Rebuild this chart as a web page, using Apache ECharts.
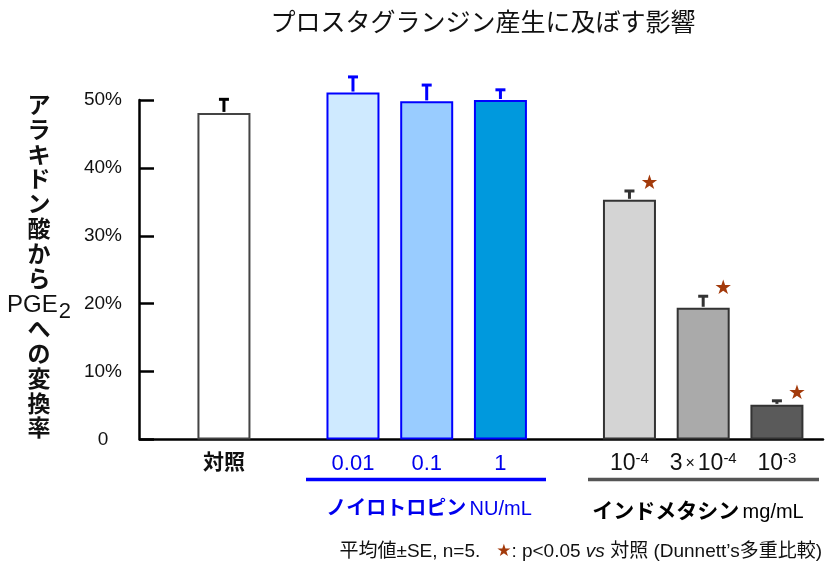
<!DOCTYPE html>
<html><head><meta charset="utf-8">
<script src="https://cdn.jsdelivr.net/npm/echarts@6/dist/echarts.min.js"></script>
<style>html,body{margin:0;padding:0;background:#fff}#c{width:826px;height:561px}</style>
</head><body><div id="c"></div><script>
// ---- data ----
const categories = ['対照', '0.01', '0.1', '1', '10^-4', '3×10^-4', '10^-3'];
const means = [48.1, 51.1, 49.8, 50.0, 35.3, 19.4, 5.1];
const errors = [2.0, 2.3, 2.4, 1.5, 1.3, 1.7, 0.6];
const significant = [false, false, false, false, true, true, true];
const yTickValues = [0, 10, 20, 30, 40, 50];
const titleText = 'プロスタグランジン産生に及ぼす影響';
const yNameLines = ['ア', 'ラ', 'キ', 'ド', 'ン', '酸', 'か', 'ら', 'PGE_2', 'へ', 'の', '変', '換', '率'];
const group1Name = 'ノイロトロピン';
const group1Unit = 'NU/mL';
const group2Name = 'インドメタシン';
const group2Unit = 'mg/mL';

// ---- layout / style ----
const FONT = "'Liberation Sans', 'Noto Sans CJK JP', sans-serif";
const slotIndex = [4, 11, 15, 19, 26, 30, 34];
const nSlots = 37;
const fills = ['#ffffff', '#cfeaff', '#99ccff', '#0099dd', '#d4d4d4', '#aaaaaa', '#5a5a5a'];
const borders = ['#444444', '#0000ff', '#0000ff', '#0000ff', '#333333', '#333333', '#333333'];
const errColors = ['#000000', '#0000ff', '#0000ff', '#0000ff', '#333333', '#333333', '#333333'];
const labelColors = ['#111111', '#0000ee', '#0000ee', '#0000ee', '#111111', '#111111', '#111111'];

const slotNames = [];
const slotLabels = [];
for (let i = 0; i < nSlots; i++) { slotNames.push('s' + i); slotLabels.push(''); }
function richLabel(text, idx) {
  const tag = idx === 0 ? 'k' : (labelColors[idx] === '#0000ee' ? 'b' : 'n');
  if (text.indexOf('^') < 0) return '{' + tag + '|' + text + '}';
  const [base, exp] = text.split('^');
  let out = '';
  if (base.indexOf('×') >= 0) {
    const [a, b] = base.split('×');
    out += '{n|' + a + '}{x|×}{n|' + b + '}';
  } else out += '{n|' + base + '}';
  out += '{s|' + exp + '}';
  return out;
}
const barData = slotNames.map(() => null);
const errData = [];
const starData = [];
categories.forEach((c, i) => {
  const s = slotIndex[i];
  slotLabels[s] = richLabel(c, i);
  barData[s] = { value: means[i], itemStyle: { color: fills[i], borderColor: borders[i], borderWidth: 2 } };
  errData.push([s, means[i], errors[i], i]);
  if (significant[i]) starData.push([s, means[i] + errors[i], i]);
});

const yNameText = yNameLines.map(l => {
  if (l.indexOf('_') >= 0) { const [a, b] = l.split('_'); return '{p|' + a + '}{sub|' + b + '}'; }
  return '{c|' + l + '}';
}).join('\n');

const chart = echarts.init(document.getElementById('c'));
chart.setOption({
  animation: false,
  backgroundColor: '#ffffff',
  grid: { left: 141, right: 3, top: 100, bottom: 121.5, outerBoundsMode: 'none', containLabel: false },
  xAxis: {
    type: 'category', data: slotNames, boundaryGap: true,
    axisLine: { lineStyle: { color: '#000', width: 2.5 } },
    axisTick: { show: false },
    axisLabel: {
      interval: 0, margin: 12, hideOverlap: false,
      formatter: (v, idx) => slotLabels[idx],
      rich: {
        k: { fontSize: 21, fontFamily: FONT, fontWeight: 'bold', color: '#111', lineHeight: 24 },
        b: { fontSize: 22, fontFamily: FONT, color: '#0000ee', lineHeight: 24 },
        n: { fontSize: 23, fontFamily: FONT, color: '#111', lineHeight: 24 },
        x: { fontSize: 16, fontFamily: FONT, color: '#111', lineHeight: 24, padding: [0, 3, 0, 3] },
        s: { fontSize: 15, fontFamily: FONT, color: '#111', lineHeight: 14, verticalAlign: 'top' }
      }
    },
    splitLine: { show: false }
  },
  yAxis: {
    type: 'value', min: 0, max: 50, interval: 10, offset: 2,
    axisLine: { show: true, lineStyle: { color: '#000', width: 2.5 } },
    axisTick: { show: true, inside: true, length: 15, lineStyle: { color: '#000', width: 2.5 } },
    axisLabel: {
      margin: 36, align: 'center', fontSize: 19, fontFamily: FONT, color: '#111',
      formatter: v => (yTickValues.indexOf(v) < 0 ? '' : (v === 0 ? '0' : v + '%'))
    },
    splitLine: { show: false }
  },
  series: [
    { type: 'bar', data: barData, barWidth: 53, z: 2, clip: false },
    {
      type: 'custom', data: errData, z: 3, clip: false, encode: { x: 0, y: 1 },
      renderItem: (params, api) => {
        const x = api.value(0), m = api.value(1), e = api.value(2), i = api.value(3);
        const p0 = api.coord([x, m]);
        const p1 = api.coord([x, m + e]);
        const c = errColors[i];
        return {
          type: 'group', children: [
            { type: 'line', shape: { x1: p0[0], y1: p0[1] - 1, x2: p1[0], y2: p1[1] }, style: { stroke: c, lineWidth: 3 } },
            { type: 'line', shape: { x1: p1[0] - 5, y1: p1[1], x2: p1[0] + 5, y2: p1[1] }, style: { stroke: c, lineWidth: 3 } }
          ]
        };
      }
    },
    {
      type: 'custom', data: starData, z: 4, clip: false, encode: { x: 0, y: 1 },
      renderItem: (params, api) => {
        const p = api.coord([api.value(0), api.value(1)]);
        return {
          type: 'text', x: p[0] + 20, y: p[1] - 7,
          style: { text: '★', fill: '#a33a0b', fontSize: 20, fontFamily: 'DejaVu Sans', align: 'center', verticalAlign: 'middle' }
        };
      }
    }
  ],
  graphic: [
    { type: 'text', x: 483, y: 24, style: { text: titleText, fontSize: 25, fontFamily: FONT, fill: '#111', align: 'center', verticalAlign: 'middle' } },
    { type: 'text', x: 39, y: 94, style: {
        text: yNameText, align: 'center', verticalAlign: 'top', fill: '#111',
        rich: {
          c: { fontSize: 23, fontFamily: FONT, fontWeight: 'bold', fill: '#111', lineHeight: 24.9 },
          p: { fontSize: 24, fontFamily: FONT, fill: '#111', lineHeight: 24.9 },
          sub: { fontSize: 22, fontFamily: FONT, fill: '#111', lineHeight: 24.9, padding: [12, 0, 0, 1] }
        }
      } },
    { type: 'line', shape: { x1: 306, y1: 479.5, x2: 546, y2: 479.5 }, style: { stroke: '#0000ff', lineWidth: 3.5 } },
    { type: 'line', shape: { x1: 588, y1: 479.5, x2: 819, y2: 479.5 }, style: { stroke: '#555555', lineWidth: 3.5 } },
    { type: 'text', x: 429, y: 509, style: {
        text: '{j|' + group1Name + '} {u|' + group1Unit + '}', align: 'center', verticalAlign: 'middle',
        rich: {
          j: { fontSize: 20, fontFamily: FONT, fontWeight: 'bold', fill: '#0000ee' },
          u: { fontSize: 20, fontFamily: FONT, fill: '#0000ee' }
        }
      } },
    { type: 'text', x: 698, y: 512, style: {
        text: '{j|' + group2Name + '} {u|' + group2Unit + '}', align: 'center', verticalAlign: 'middle',
        rich: {
          j: { fontSize: 21, fontFamily: FONT, fontWeight: 'bold', fill: '#000' },
          u: { fontSize: 20, fontFamily: FONT, fill: '#000' }
        }
      } },
    { type: 'text', x: 822, y: 552, style: {
        text: '{a|平均値±SE, n=5.   }{st|★}{a|: p<0.05 }{i|vs}{a| 対照 (Dunnett’s多重比較)}',
        align: 'right', verticalAlign: 'middle',
        rich: {
          a: { fontSize: 19, fontFamily: FONT, fill: '#111' },
          st: { fontSize: 17, fontFamily: 'DejaVu Sans', fill: '#a33a0b' },
          i: { fontSize: 19, fontFamily: FONT, fontStyle: 'italic', fill: '#111' }
        }
      } }
  ]
});
</script></body></html>
